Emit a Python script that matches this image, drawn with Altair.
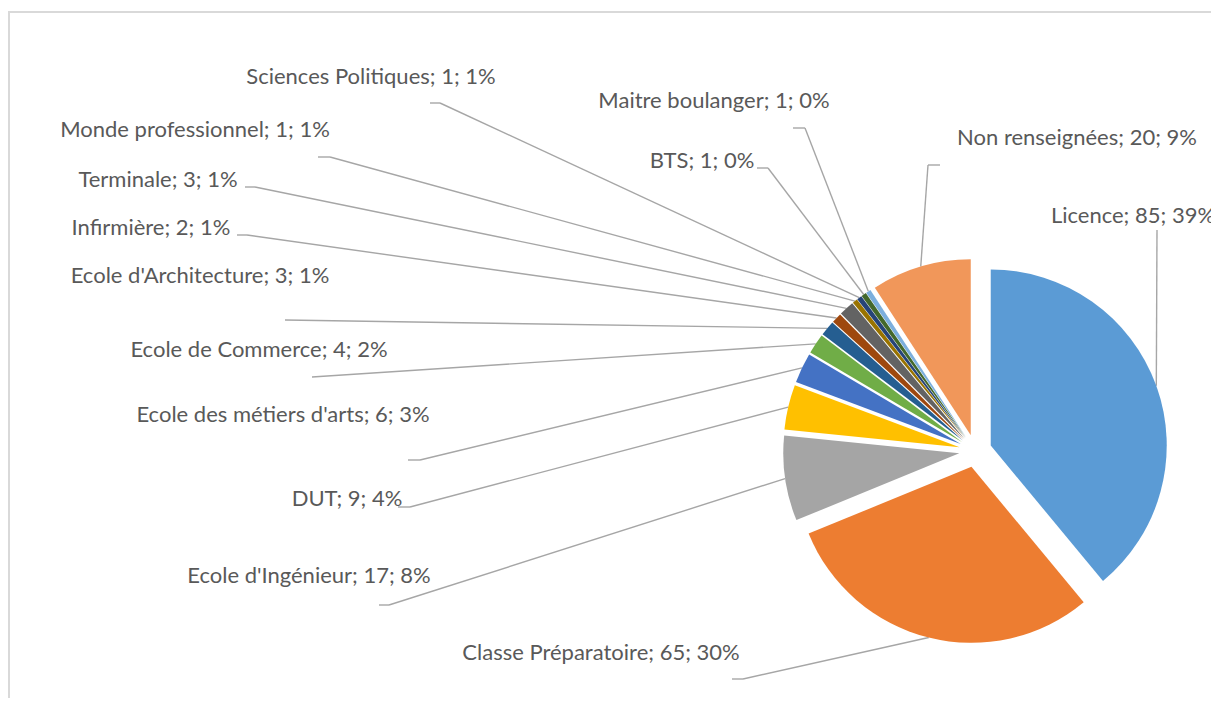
import altair as alt
import pandas as pd

# ---------------- data ----------------
categories = ["Licence", "Classe Préparatoire", "Ecole d'Ingénieur", "DUT",
              "Ecole des métiers d'arts", "Ecole de Commerce", "Ecole d'Architecture",
              "Infirmière", "Terminale", "Monde professionnel", "Sciences Politiques",
              "BTS", "Maitre boulanger", "Non renseignées"]
counts = [85, 65, 17, 9, 6, 4, 3, 2, 3, 1, 1, 1, 1, 20]
percents = [39, 30, 8, 4, 3, 2, 1, 1, 1, 1, 1, 0, 0, 9]

# ---------------- styles ----------------
colors = ["#5B9BD5", "#ED7D31", "#A5A5A5", "#FFC000", "#4472C4", "#70AD47",
          "#255E91", "#9E480E", "#636363", "#997300", "#264478", "#43682B",
          "#7CAFDD", "#F1975A"]
FONT = "Lato"
FONT_SIZE = 22
TEXT_COLOR = "#595959"
LEADER_COLOR = "#A6A6A6"
BORDER_COLOR = "#D9D9D9"

# ---------------- layout (page pixels; the page has an 8px margin) ----------------
M = 8
W, H = 1203, 690
CX, CY = 975.4 - M, 451 - M      # pie centre
R = 176                           # pie radius
EXPLODE = 16.3                    # slice explosion

# manually placed data labels (as in the original workbook)
label_x = [1133, 601, 309, 347, 283, 259, 200, 151, 158, 195, 371, 702, 714, 1077]
label_base = [223, 660, 583, 506, 422, 357, 283, 235, 187, 137, 84, 168, 108, 145]
joint_x = [1157, 743, 389, 410, 420, 312, 285, 247, 255, 330, 440, 768, 805, 928]
joint_y = [230, 679, 605, 507, 460, 377, 320, 235, 187, 157, 103, 168, 128, 165]
tick_dx = [0, -11, -10, -12, -12, 0, 0, -10, -10, -12, -10, -11, -12, 12]

df = pd.DataFrame({
    "idx": list(range(len(categories))),
    "cat": categories,
    "n": counts,
    "pct": percents,
    "lx": [v - M for v in label_x],
    "lb": [v - M for v in label_base],
    "jx": [v - M for v in joint_x],
    "jy": [v - M for v in joint_y],
    "tdx": tick_dx,
})

base = alt.Chart(df).transform_window(
    cum="sum(n)", sort=[alt.SortField("idx")], frame=[None, 0]
).transform_joinaggregate(
    total="sum(n)"
).transform_calculate(
    t0="2*PI*(datum.cum - datum.n)/datum.total",
    t1="2*PI*datum.cum/datum.total",
    tm="(datum.t0 + datum.t1)/2",
    cx=f"{CX} + {EXPLODE}*sin(datum.tm)",
    cy=f"{CY} - {EXPLODE}*cos(datum.tm)",
    px=f"{CX} + {EXPLODE + R}*sin(datum.tm)",
    py=f"{CY} - {EXPLODE + R}*cos(datum.tm)",
    tx2="datum.jx + datum.tdx",
    label="datum.cat + '; ' + datum.n + '; ' + datum.pct + '%'",
)

arcs = base.mark_arc(outerRadius=R, innerRadius=0).encode(
    x=alt.X("cx:Q", scale=None, axis=None),
    y=alt.Y("cy:Q", scale=None, axis=None),
    theta=alt.Theta("t0:Q", scale=None),
    theta2="t1:Q",
    color=alt.Color("cat:N", scale=alt.Scale(domain=categories, range=colors), legend=None),
)

leaders = base.mark_rule(color=LEADER_COLOR, strokeWidth=1.4).encode(
    x=alt.X("jx:Q", scale=None, axis=None),
    y=alt.Y("jy:Q", scale=None, axis=None),
    x2="px:Q",
    y2="py:Q",
)

ticks = base.transform_filter("datum.tdx != 0").mark_rule(
    color=LEADER_COLOR, strokeWidth=1.4
).encode(
    x=alt.X("jx:Q", scale=None, axis=None),
    y=alt.Y("jy:Q", scale=None, axis=None),
    x2="tx2:Q",
    y2="jy:Q",
)

labels = base.mark_text(
    align="center", baseline="alphabetic", font=FONT, fontSize=FONT_SIZE, color=TEXT_COLOR
).encode(
    x=alt.X("lx:Q", scale=None, axis=None),
    y=alt.Y("lb:Q", scale=None, axis=None),
    text="label:N",
)

frame_df = pd.DataFrame({"k": [0]})
top_border = alt.Chart(frame_df).mark_rule(color=BORDER_COLOR, strokeWidth=2).encode(
    x=alt.value(1), x2=alt.value(W), y=alt.value(4)
)
left_border = alt.Chart(frame_df).mark_rule(color=BORDER_COLOR, strokeWidth=2).encode(
    x=alt.value(1), y=alt.value(3), y2=alt.value(H)
)

chart = alt.layer(top_border, left_border, leaders, ticks, arcs, labels).properties(
    width=W, height=H, padding=0, autosize="none"
).configure_view(stroke=None)

chart.save("out.html", embed_options={"renderer": "svg", "actions": False})
